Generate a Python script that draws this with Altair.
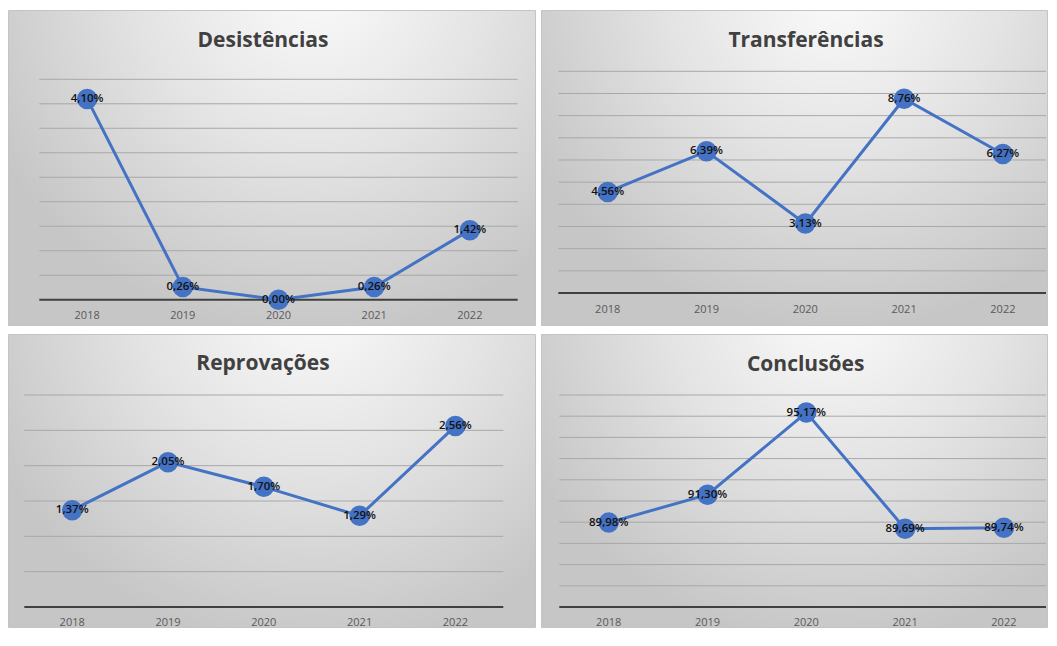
import altair as alt
import pandas as pd

years = ["2018", "2019", "2020", "2021", "2022"]
desistencias = [4.10, 0.26, 0.00, 0.26, 1.42]
transferencias = [4.56, 6.39, 3.13, 8.76, 6.27]
reprovacoes = [1.37, 2.05, 1.70, 1.29, 2.56]
conclusoes = [89.98, 91.30, 95.17, 89.69, 89.74]

titles = ["Desistências", "Transferências", "Reprovações", "Conclusões"]
y_domains = [[0, 4.5], [0, 10], [0, 3], [86, 96]]
grid_desist = [0.5, 1.0, 1.5, 2.0, 2.5, 3.0, 3.5, 4.0, 4.5]
grid_transf = [1, 2, 3, 4, 5, 6, 7, 8, 9, 10]
grid_reprov = [0.5, 1.0, 1.5, 2.0, 2.5, 3.0]
grid_concl = [87, 88, 89, 90, 91, 92, 93, 94, 95, 96]

BLUE = "#4472C4"
FONT = "Open Sans"

gradient = alt.RadialGradient(
    gradient="radial",
    stops=[
        alt.GradientStop(offset=0, color="#fbfbfb"),
        alt.GradientStop(offset=0.5, color="#e3e3e3"),
        alt.GradientStop(offset=1, color="#c6c6c6"),
    ],
    x1=0.58, y1=0.14, r1=0,
    x2=0.58, y2=0.14, r2=0.68,
)


def fmt(v):
    return f"{v:.2f}".replace(".", ",") + "%"


def panel(title, values, domain, grid, VW, VH, xr, gx2, yr, lab_y, tx, ty):
    """VW, VH: panel size; xr: pixel range of the category axis;
    gx2: right end of grid lines; yr: [baseline, top] pixel range."""
    df = pd.DataFrame({"year": years, "v": values, "label": [fmt(v) for v in values]})
    one = pd.DataFrame({"t": [title], "b": [domain[0]]})
    gdf = pd.DataFrame({"g": grid})
    yscale = alt.Scale(domain=domain, nice=False, zero=False, range=yr)
    xs = alt.X("year:O", sort=years,
               scale=alt.Scale(type="point", padding=0.5, range=xr), axis=None)
    ys = alt.Y("v:Q", scale=yscale, axis=None)
    base = alt.Chart(df)
    bg = alt.Chart(one).mark_rect(fill=gradient, stroke="#c4c4c4", strokeWidth=1).encode(
        x=alt.value(0.5), x2=alt.value(VW - 0.5), y=alt.value(0.5), y2=alt.value(VH - 0.5)
    )
    gridl = alt.Chart(gdf).mark_rule(color="#a8a8a8", strokeWidth=1).encode(
        y=alt.Y("g:Q", scale=yscale, axis=None), x=alt.value(xr[0]), x2=alt.value(gx2)
    )
    baseline = alt.Chart(one).mark_rule(color="#404040", strokeWidth=2).encode(
        y=alt.Y("b:Q", scale=yscale, axis=None), x=alt.value(xr[0]), x2=alt.value(gx2)
    )
    ylabels = base.mark_text(font=FONT, fontSize=11, color="#595959", baseline="middle").encode(
        x=xs, y=alt.value(lab_y), text="year:N"
    )
    line = base.mark_line(color=BLUE, strokeWidth=3).encode(x=xs, y=ys)
    pts = base.mark_circle(size=420, color=BLUE, opacity=1).encode(x=xs, y=ys)
    txt = base.mark_text(font=FONT, fontSize=11.5, fontWeight=600, color="#111111",
                         baseline="middle").encode(x=xs, y=ys, text="label:N")
    ttl = alt.Chart(one).mark_text(
        font=FONT, fontSize=21, fontWeight="bold", color="#404040",
        baseline="alphabetic", align="center",
    ).encode(x=alt.value(tx), y=alt.value(ty), text="t:N")
    return alt.layer(bg, gridl, baseline, ylabels, line, pts, txt, ttl).properties(
        width=VW, height=VH
    )


p1 = panel(titles[0], desistencias, y_domains[0], grid_desist,
           VW=528, VH=316, xr=[31.3, 509.7], gx2=509.7, yr=[289.7, 69.3],
           lab_y=306, tx=255, ty=37.3)
p2 = panel(titles[1], transferencias, y_domains[1], grid_transf,
           VW=507, VH=316, xr=[17.3, 511.3], gx2=505, yr=[283, 61.3],
           lab_y=299.7, tx=265, ty=37.3)
p3 = panel(titles[2], reprovacoes, y_domains[2], grid_reprov,
           VW=528, VH=294, xr=[16.3, 495.3], gx2=495.3, yr=[273, 61],
           lab_y=289, tx=255, ty=36)
p4 = panel(titles[3], conclusoes, y_domains[3], grid_concl,
           VW=507, VH=294, xr=[18.3, 512.3], gx2=505, yr=[273, 61],
           lab_y=289, tx=264.7, ty=37)

chart = alt.vconcat(
    alt.hconcat(p1, p2, spacing=5),
    alt.hconcat(p3, p4, spacing=5),
    spacing=8,
).properties(
    padding={"left": 0, "top": 2, "right": 0, "bottom": 0},
    background="white",
).configure_view(stroke=None)

chart.save("out.html", embed_options={"renderer": "svg", "actions": False})
